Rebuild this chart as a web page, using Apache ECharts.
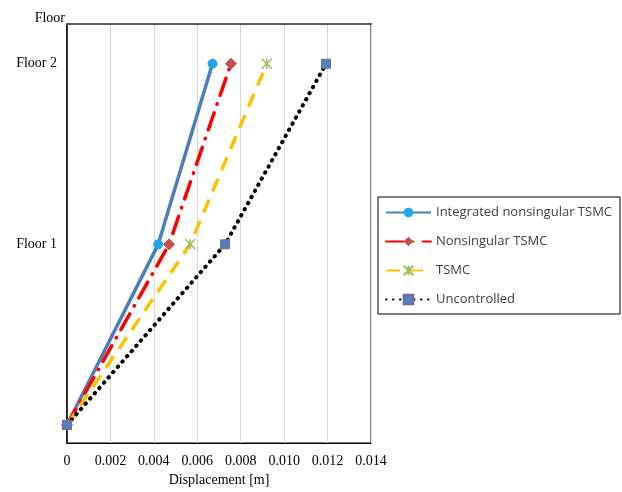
<!DOCTYPE html>
<html><head><meta charset="utf-8">
<script src="https://cdn.jsdelivr.net/npm/echarts@6/dist/echarts.min.js"></script>
<style>html,body{margin:0;padding:0;background:#fff}#c{width:622px;height:492px}</style>
</head><body><div id="c"></div>
<script>
const floors = [0, 1, 2];
const floorLabels = {1: 'Floor 1', 2: 'Floor 2'};
const xTicks = [0, 0.002, 0.004, 0.006, 0.008, 0.010, 0.012, 0.014];
const seriesNames = ['Integrated nonsingular TSMC', 'Nonsingular TSMC', 'TSMC', 'Uncontrolled'];
const integratedDisp = [0, 0.0042, 0.0067];
const nonsingularDisp = [0, 0.0047, 0.00755];
const tsmcDisp = [0, 0.00567, 0.0092];
const uncontrolledDisp = [0, 0.00728, 0.01193];

const pairs = arr => arr.map((v, i) => [v, floors[i]]);
const serif = '"Liberation Serif", "DejaVu Serif", serif';
const chart = echarts.init(document.getElementById('c'), null, {renderer: 'canvas'});
chart.setOption({
  animation: false,
  backgroundColor: '#fff',
  grid: {left: 67, right: 251, top: 24, bottom: 48, show: true, borderColor: '#000', borderWidth: 1},
  xAxis: [{
    type: 'value', min: 0, max: 0.014, interval: 0.002,
    name: 'Displacement [m]', nameLocation: 'middle', nameGap: 30,
    nameTextStyle: {fontFamily: serif, fontSize: 14, color: '#000'},
    axisLine: {show: true, onZero: false, lineStyle: {color: '#000', width: 1}},
    axisTick: {show: false},
    axisLabel: {fontFamily: serif, fontSize: 14, color: '#000', margin: 11,
      formatter: v => v === 0 ? '0' : v.toFixed(3)},
    splitLine: {show: true, lineStyle: {color: '#d9d9d9', width: 1}}
  }, {
    type: 'value', position: 'top', min: 0, max: 0.014,
    axisLine: {show: true, onZero: false, lineStyle: {color: '#595959', width: 2}},
    axisTick: {show: false}, axisLabel: {show: false}, splitLine: {show: false}
  }],
  yAxis: {
    type: 'value', min: -0.1, max: 2.22,
    name: 'Floor', nameLocation: 'end', nameGap: -1,
    nameTextStyle: {fontFamily: serif, fontSize: 14, color: '#000', align: 'right', padding: [0, 2, 0, 0]},
    axisLine: {show: true, onZero: false, lineStyle: {color: '#000', width: 1.5}},
    axisTick: {show: false},
    axisLabel: {customValues: [1, 2], fontFamily: serif, fontSize: 14, color: '#000', margin: 10,
      formatter: v => floorLabels[v] || ''},
    splitLine: {show: false}
  },
  legend: {
    orient: 'vertical', left: 378, top: 197,
    padding: [9, 8, 8, 7], itemGap: 16, itemWidth: 45, itemHeight: 12,
    borderColor: '#000', borderWidth: 1,
    textStyle: {fontFamily: '"Open Sans", "Liberation Sans", sans-serif', fontSize: 13, color: '#404040'},
    data: seriesNames
  },
  series: [
    {name: seriesNames[0], type: 'line', data: pairs(integratedDisp),
      symbol: 'circle', symbolSize: 9,
      lineStyle: {color: '#4a7ebb', width: 3.5},
      itemStyle: {color: '#1fa6e8', borderColor: '#1fa6e8'}},
    {name: seriesNames[1], type: 'line', data: pairs(nonsingularDisp),
      symbol: 'diamond', symbolSize: 11,
      lineStyle: {color: '#ff0000', width: 3.5, type: [18, 9, 0.5, 9], cap: 'round'},
      itemStyle: {color: '#c0504d', borderColor: '#c0504d'}},
    {name: seriesNames[2], type: 'line', data: pairs(tsmcDisp),
      symbol: 'path://M0,0L10,10M10,0L0,10M5,0L5,10', symbolSize: 10,
      lineStyle: {color: '#ffc000', width: 3.5, type: [14, 9]},
      itemStyle: {color: '#9bbb59', borderColor: '#9bbb59', borderWidth: 1.5}},
    {name: seriesNames[3], type: 'line', data: pairs(uncontrolledDisp),
      symbol: 'rect', symbolSize: 9,
      lineStyle: {color: '#000', width: 4, type: [0.5, 6.5], cap: 'round'},
      itemStyle: {color: '#4f81bd', borderColor: '#8064a2', borderWidth: 1}}
  ]
});
</script></body></html>
